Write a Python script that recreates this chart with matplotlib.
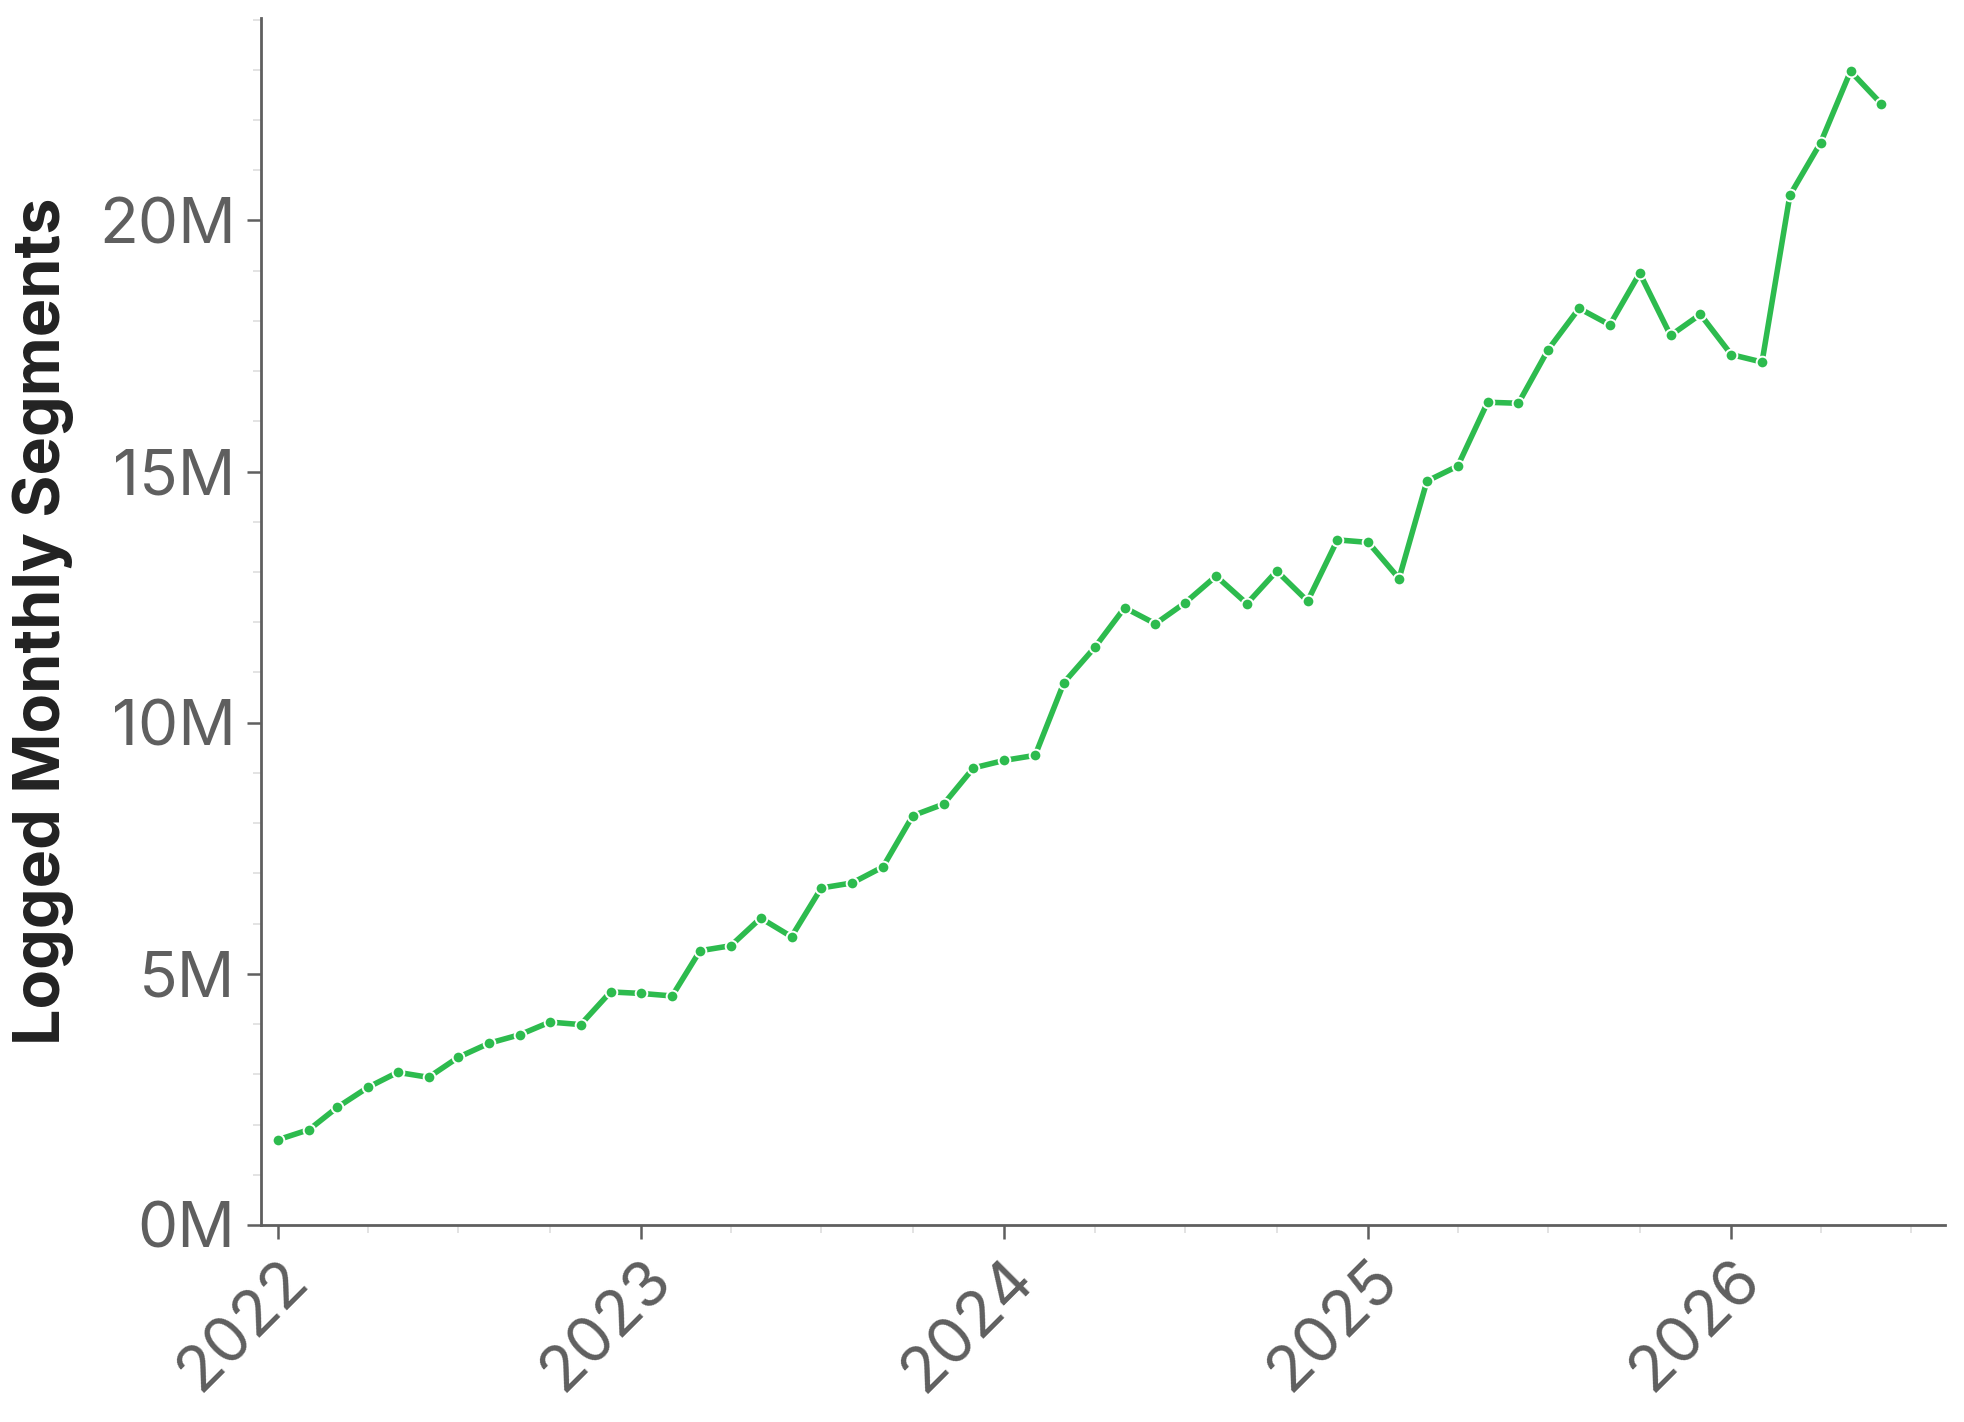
import matplotlib
matplotlib.use("Agg")
import matplotlib.pyplot as plt
import matplotlib.dates as mdates
from matplotlib.ticker import FuncFormatter, MultipleLocator
import pandas as pd

plt.rcParams['font.family'] = ['Inter', 'DejaVu Sans']

months = pd.date_range("2022-01-01", "2026-06-01", freq="MS")
segments_m = [
    1.70, 1.90, 2.34, 2.74, 3.04, 2.94, 3.34, 3.62, 3.79, 4.04, 3.99, 4.64,
    4.61, 4.56, 5.46, 5.56, 6.11, 5.74, 6.71, 6.81, 7.13, 8.15, 8.38, 9.10,
    9.25, 9.35, 10.80, 11.50, 12.29, 11.97, 12.39, 12.92, 12.37, 13.02, 12.42, 13.64,
    13.59, 12.87, 14.81, 15.11, 16.38, 16.36, 17.43, 18.25, 17.92, 18.95, 17.71, 18.13,
    17.33, 17.18, 20.50, 21.55, 22.97, 22.32,
]
segments = [v * 1e6 for v in segments_m]
y_label = "Logged Monthly Segments"

fig = plt.figure(figsize=(9.82, 7.11), dpi=200)
ax = fig.add_axes([260.5 / 1964, 1 - 1225 / 1422, (1945 - 260.5) / 1964, (1225 - 17.5) / 1422])

ax.plot(months, segments, color="#2dbb4e", lw=2.0, marker="o", markersize=4.2,
        markerfacecolor="#2dbb4e", markeredgecolor="white", markeredgewidth=0.7, zorder=3)

ax.set_xlim(pd.Timestamp("2021-12-14"), pd.Timestamp("2026-08-04"))
ax.set_ylim(0, 24.04e6)

ax.xaxis.set_major_locator(mdates.YearLocator())
ax.xaxis.set_major_formatter(mdates.DateFormatter("%Y"))
ax.xaxis.set_minor_locator(mdates.MonthLocator(bymonth=[4, 7, 10]))
ax.yaxis.set_major_locator(MultipleLocator(5e6))
ax.yaxis.set_minor_locator(MultipleLocator(1e6))
ax.yaxis.set_major_formatter(FuncFormatter(lambda v, p: f"{v/1e6:.0f}M"))

for s in ["top", "right"]:
    ax.spines[s].set_visible(False)
for s in ["left", "bottom"]:
    ax.spines[s].set_color("#5f5f5f")
    ax.spines[s].set_linewidth(1.0)

ax.tick_params(axis="both", which="major", colors="#5f5f5f", labelsize=23, length=5, width=0.9, pad=4)
ax.tick_params(axis="both", which="minor", color="#e3e3e3", length=3, width=0.7)
plt.setp(ax.get_xticklabels(), rotation=45, ha="right", rotation_mode="anchor")

ax.set_ylabel(y_label, fontsize=23.3, fontweight="bold", color="#222222", labelpad=9)

fig.savefig("out.png", dpi=200, facecolor="white")
